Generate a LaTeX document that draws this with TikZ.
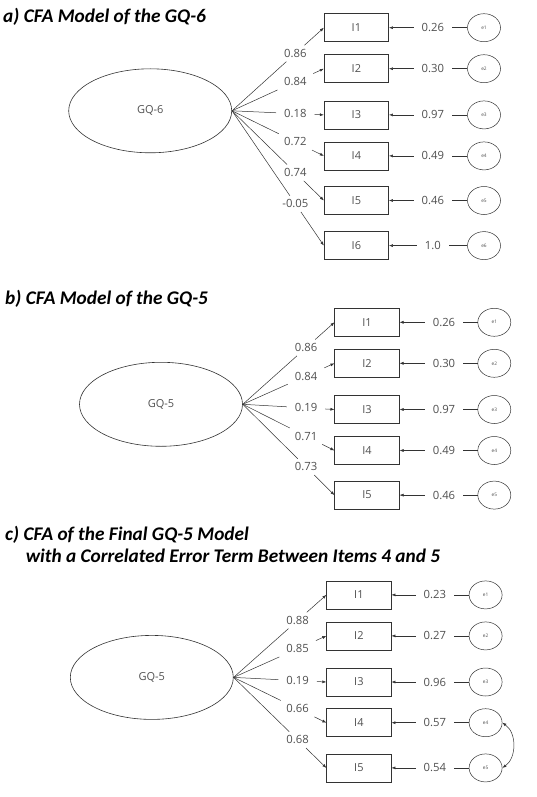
\documentclass[tikz,border=0pt]{standalone}
\usepackage{fontspec}
\setmainfont{Open Sans}
\newfontfamily\titlefont{Carlito}
\usetikzlibrary{shapes.geometric,arrows.meta,calc}
\definecolor{txt}{HTML}{505050}
\definecolor{ln}{HTML}{333333}
\tikzset{
  lat/.style={draw=ln, line width=0.6pt, ellipse, minimum width=163pt, minimum height=84pt, inner sep=0pt, text=txt, font=\fontsize{11}{13}\selectfont},
  item/.style={draw=ln, line width=0.6pt, rectangle, minimum width=64.5pt, minimum height=28pt, inner sep=0pt, text=txt, font=\fontsize{11}{13}\selectfont},
  err/.style={draw=ln, line width=0.5pt, ellipse, minimum width=33pt, minimum height=28pt, inner sep=0pt, text=txt, font=\fontsize{4.8}{5}\selectfont},
  val/.style={inner xsep=8pt, inner ysep=4pt, outer sep=0pt, text=txt, font=\fontsize{11.3}{13}\selectfont},
  conn/.style={draw=ln, line width=0.5pt},
  arr/.style={conn, -{Latex[length=4pt,width=3pt]}},
  darr/.style={conn, {Latex[length=4pt,width=3pt]}-{Latex[length=4pt,width=3pt]}},
  ttl/.style={anchor=base west, inner sep=0pt, font=\titlefont\bfseries\itshape\fontsize{19.3}{22}\selectfont}
}
\begin{document}
\begin{tikzpicture}[x=1pt,y=-1pt]
\path[use as bounding box] (0,0) rectangle (536,797);

% ---------- panel a ----------
\node[ttl] (ta) at (3,22.6) {a) CFA Model of the GQ-6};
\node[lat] (ga) at (150.2,110.8) {GQ-6};
\foreach \i/\y/\l/\e in {1/27.7/0.86/0.26, 2/68.7/0.84/0.30, 3/114.9/0.18/0.97, 4/155.9/0.72/0.49, 5/200.5/0.74/0.46, 6/245.6/-0.05/1.0} {
  \node[item] (ai\i) at (356.4,\y) {I\i};
  \node[err] (ae\i) at (484,\y) {e\i};
  \node[val] (av\i) at (432.8,\y) {\e};
  \node[val] (al\i) at ($(ga.east)!0.69!(ai\i.west)$) {\l};
  \draw[conn] (ga.east) -- (al\i);
  \draw[arr] (al\i) -- (ai\i.west);
  \draw[conn] (ae\i) -- (av\i);
  \draw[arr] (av\i) -- (ai\i);
}

% ---------- panel b ----------
\node[ttl] (tb) at (5,304.9) {b) CFA Model of the GQ-5};
\node[lat] (gb) at (161,404.3) {GQ-5};
\foreach \i/\y/\l/\e in {1/322.3/0.86/0.26, 2/363.3/0.84/0.30, 3/409.5/0.19/0.97, 4/450.5/0.71/0.49, 5/495.1/0.73/0.46} {
  \node[item] (bi\i) at (367,\y) {I\i};
  \node[err] (be\i) at (494.3,\y) {e\i};
  \node[val] (bv\i) at (444,\y) {\e};
  \node[val] (bl\i) at ($(gb.east)!0.69!(bi\i.west)$) {\l};
  \draw[conn] (gb.east) -- (bl\i);
  \draw[arr] (bl\i) -- (bi\i.west);
  \draw[conn] (be\i) -- (bv\i);
  \draw[arr] (bv\i) -- (bi\i);
}

% ---------- panel c ----------
\node[ttl] (tc1) at (5,540.5) {c) CFA of the Final GQ-5 Model};
\node[ttl] (tc2) at (25.6,562.8) {with a Correlated Error Term Between Items 4 and 5};
\node[lat] (gc) at (151.8,677.4) {GQ-5};
\foreach \i/\y/\l/\e in {1/594.9/0.88/0.23, 2/635.9/0.85/0.27, 3/682/0.19/0.96, 4/722.7/0.66/0.57, 5/767.9/0.68/0.54} {
  \node[item] (ci\i) at (358.9,\y) {I\i};
  \node[err] (ce\i) at (485.6,\y) {e\i};
  \node[val] (cv\i) at (434.8,\y) {\e};
  \node[val] (cl\i) at ($(gc.east)!0.69!(ci\i.west)$) {\l};
  \draw[conn] (gc.east) -- (cl\i);
  \draw[arr] (cl\i) -- (ci\i.west);
  \draw[conn] (ce\i) -- (cv\i);
  \draw[arr] (cv\i) -- (ci\i);
}
\draw[darr] (ce4.east) to[out=-35, in=35] (ce5.east);
\end{tikzpicture}
\end{document}
